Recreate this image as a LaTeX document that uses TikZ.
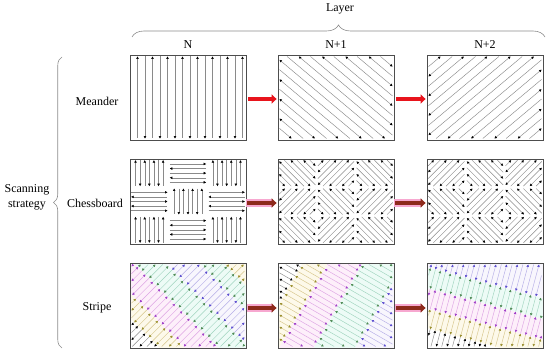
\documentclass[tikz,border=0pt]{standalone}
\usepackage{fontspec}
\setmainfont{Liberation Serif}
\usetikzlibrary{arrows.meta,decorations.pathreplacing}

\definecolor{frame}{HTML}{4D4D4D}
\definecolor{hgray}{HTML}{8A8A8A}
\definecolor{bracecol}{HTML}{8C8C8C}
\definecolor{redarrow}{HTML}{E8141C}
\definecolor{brownarrow}{HTML}{8E2A1C}
\definecolor{glow}{HTML}{F7A8D0}
\definecolor{aolive}{HTML}{9A8F2E}
\definecolor{aviolet}{HTML}{A040C8}
\definecolor{agreen}{HTML}{4F8A55}
\definecolor{ablue}{HTML}{5A4CCF}
\definecolor{bgolive}{HTML}{FDF9EA}
\definecolor{bgviolet}{HTML}{FDEFFA}
\definecolor{bggreen}{HTML}{EDFBF6}
\definecolor{bgblue}{HTML}{F8F6FD}
\definecolor{lolive}{HTML}{D6C58A}
\definecolor{lviolet}{HTML}{DDA3E3}
\definecolor{lgreen}{HTML}{A0D4BE}
\definecolor{lblue}{HTML}{B5ADE6}

\def\hoff{0}
\def\hcolline{hgray}
\def\hcolarr{black}

% hatch a rectangle (screen px, y down) with lines at angle #5, spacing #6,
% restricted to u in [#7,#8] (u measured from the rectangle centre along the hatch)
\newcommand\hatchrect[8]{%
  \pgfmathsetmacro\hcx{((#1)+(#3))/2}%
  \pgfmathsetmacro\hcy{((#2)+(#4))/2}%
  \pgfmathsetmacro\hdx{cos(#5)}%
  \pgfmathsetmacro\hdy{sin(#5)}%
  \pgfmathsetmacro\hadx{abs(\hdx)}%
  \pgfmathsetmacro\hady{abs(\hdy)}%
  \pgfmathtruncatemacro\hN{ceil(0.5*veclen((#3)-(#1),(#4)-(#2))/(#6))+1}%
  \pgfmathtruncatemacro\hNm{-\hN}%
  \foreach \j in {\hNm,...,\hN}{%
    \pgfmathsetmacro\hv{(\j)*(#6)+(\hoff)}%
    \pgfmathsetmacro\hpx{(\hcx)-(\hv)*(\hdy)}%
    \pgfmathsetmacro\hpy{(\hcy)+(\hv)*(\hdx)}%
    \def\hlo{#7}\def\hhi{#8}\def\hok{1}%
    \ifdim\hadx pt<0.001pt
      \pgfmathtruncatemacro\hok{((\hpx>(#1)+0.2)&&(\hpx<(#3)-0.2))?1:0}%
    \else
      \pgfmathsetmacro\hlo{max((\hlo),min(((#1)-(\hpx))/(\hdx),((#3)-(\hpx))/(\hdx)))}%
      \pgfmathsetmacro\hhi{min((\hhi),max(((#1)-(\hpx))/(\hdx),((#3)-(\hpx))/(\hdx)))}%
    \fi
    \ifdim\hady pt<0.001pt
      \pgfmathtruncatemacro\hok{((\hok==1)&&(\hpy>(#2)+0.2)&&(\hpy<(#4)-0.2))?1:0}%
    \else
      \pgfmathsetmacro\hlo{max((\hlo),min(((#2)-(\hpy))/(\hdy),((#4)-(\hpy))/(\hdy)))}%
      \pgfmathsetmacro\hhi{min((\hhi),max(((#2)-(\hpy))/(\hdy),((#4)-(\hpy))/(\hdy)))}%
    \fi
    \pgfmathtruncatemacro\hdraw{((\hok==1)&&((\hhi)-(\hlo)>2.5))?1:0}%
    \ifnum\hdraw=1
      \pgfmathsetmacro\hax{(\hpx)+(\hlo)*(\hdx)}%
      \pgfmathsetmacro\hay{(\hpy)+(\hlo)*(\hdy)}%
      \pgfmathsetmacro\hbx{(\hpx)+(\hhi)*(\hdx)}%
      \pgfmathsetmacro\hby{(\hpy)+(\hhi)*(\hdy)}%
      \ifodd\j
        \draw[hatchline,draw=\hcolline,{Triangle[length=2.4pt,width=2.4pt,color=\hcolarr]}-] (\hax,\hay) -- (\hbx,\hby);
      \else
        \draw[hatchline,draw=\hcolline,-{Triangle[length=2.4pt,width=2.4pt,color=\hcolarr]}] (\hax,\hay) -- (\hbx,\hby);
      \fi
    \fi
  }%
}

% chessboard box: #1 left x, #2 top y, #3 angle of "vertical" cells, #4 angle of "horizontal" cells, #5 spacing
\newcommand\chessbox[5]{%
  \foreach \ci in {0,1,2}{\foreach \ri in {0,1,2}{%
    \pgfmathsetmacro\qxa{(#1)+\ci*116/3+1.2}%
    \pgfmathsetmacro\qxb{(#1)+(\ci+1)*116/3-1.2}%
    \pgfmathsetmacro\qya{(#2)+\ri*85/3+1.2}%
    \pgfmathsetmacro\qyb{(#2)+(\ri+1)*85/3-1.2}%
    \pgfmathtruncatemacro\qp{mod(\ci+\ri,2)}%
    \ifnum\qp=0 \def\qang{#3}\else\def\qang{#4}\fi
    \hatchrect{\qxa}{\qya}{\qxb}{\qyb}{\qang}{#5}{-100}{100}%
  }}%
}

% band background: uses \BXa \BYa \BXb \BYb; #1 angle #2 umin #3 umax #4 colour
\newcommand\bandfill[4]{%
  \pgfmathsetmacro\fcx{((\BXa)+(\BXb))/2}%
  \pgfmathsetmacro\fcy{((\BYa)+(\BYb))/2}%
  \pgfmathsetmacro\fdx{cos(#1)}%
  \pgfmathsetmacro\fdy{sin(#1)}%
  \pgfmathsetmacro\fax{\fcx+(#2)*\fdx-200*\fdy}%
  \pgfmathsetmacro\fay{\fcy+(#2)*\fdy+200*\fdx}%
  \pgfmathsetmacro\fbx{\fcx+(#3)*\fdx-200*\fdy}%
  \pgfmathsetmacro\fby{\fcy+(#3)*\fdy+200*\fdx}%
  \pgfmathsetmacro\fcxx{\fcx+(#3)*\fdx+200*\fdy}%
  \pgfmathsetmacro\fcyy{\fcy+(#3)*\fdy-200*\fdx}%
  \pgfmathsetmacro\fdxx{\fcx+(#2)*\fdx+200*\fdy}%
  \pgfmathsetmacro\fdyy{\fcy+(#2)*\fdy-200*\fdx}%
  \begin{scope}
    \clip (\BXa,\BYa) rectangle (\BXb,\BYb);
    \fill[#4] (\fax,\fay) -- (\fbx,\fby) -- (\fcxx,\fcyy) -- (\fdxx,\fdyy) -- cycle;
  \end{scope}
}

% one stripe band: #1 angle #2 umin #3 umax #4 bg #5 line colour #6 arrow colour
\newcommand\stripeband[6]{%
  \bandfill{#1}{#2}{#3}{#4}%
  \def\hcolline{#5}\def\hcolarr{#6}%
  \hatchrect{\BXa+1.5}{\BYa+1.5}{\BXb-1.5}{\BYb-1.5}{#1}{5.2}{#2}{#3}%
}

\begin{document}
\begin{tikzpicture}[x=1pt,y=-1pt,
  hatchline/.style={line width=0.45pt},
  boxnode/.style={draw=frame,line width=0.8pt,minimum width=116pt,minimum height=85pt,inner sep=0pt},
  lbl/.style={font=\fontsize{12}{14.5}\selectfont,text=black,inner sep=0pt},
  bracestyle/.style={draw=bracecol,line width=0.6pt,decorate},
  redarr/.style={draw=redarrow,line width=4.5pt,-{Triangle[length=5pt,width=9pt]}},
  brownarr/.style={draw=brownarrow,line width=4.5pt,-{Triangle[length=5pt,width=9pt]}},
  glowline/.style={draw=glow,line width=8pt}]
\useasboundingbox (0,0) rectangle (550,353);

% ---------- Meander ----------
\def\hoff{-2}
\hatchrect{131.5}{56.5}{244.5}{138.5}{90}{7.5}{-100}{100}
\def\hoff{0}
\hatchrect{279.5}{56.5}{392.5}{138.5}{40}{7.5}{-100}{100}
\hatchrect{428.5}{56.5}{541.5}{138.5}{-40}{7.5}{-100}{100}

% ---------- Chessboard ----------
\chessbox{130}{159}{90}{0}{4.6}
\chessbox{278}{159}{45}{-45}{4.5}
\chessbox{427}{159}{-45}{45}{4.5}

% ---------- Stripe ----------
\def\BXa{130}\def\BYa{263}\def\BXb{246}\def\BYb{348}
\stripeband{-45}{-80}{-50}{white}{hgray}{black}
\stripeband{-45}{-50}{-32}{bgolive}{lolive}{aolive}
\stripeband{-45}{-32}{-8}{bgviolet}{lviolet}{aviolet}
\stripeband{-45}{-8}{14}{bggreen}{lgreen}{agreen}
\stripeband{-45}{14}{38}{bgblue}{lblue}{ablue}
\stripeband{-45}{38}{55}{bggreen}{lgreen}{agreen}
\stripeband{-45}{55}{80}{bgolive}{lolive}{aolive}

\def\BXa{278}\def\BYa{263}\def\BXb{394}\def\BYb{348}
\stripeband{30}{-80}{-50}{white}{hgray}{black}
\stripeband{30}{-50}{-28}{bgolive}{lolive}{aolive}
\stripeband{30}{-28}{2}{bgviolet}{lviolet}{aviolet}
\stripeband{30}{2}{38}{bggreen}{lgreen}{agreen}
\stripeband{30}{38}{80}{bgblue}{lblue}{ablue}

\def\BXa{427}\def\BYa{263}\def\BXb{543}\def\BYb{348}
\stripeband{-75}{-80}{-37}{white}{hgray}{black}
\stripeband{-75}{-37}{-18}{bgolive}{lolive}{aolive}
\stripeband{-75}{-18}{2}{bgviolet}{lviolet}{aviolet}
\stripeband{-75}{2}{22}{bggreen}{lgreen}{agreen}
\stripeband{-75}{22}{80}{bgblue}{lblue}{ablue}

% ---------- frames ----------
\node[boxnode] (m0) at (188,97.5) {};
\node[boxnode] (m1) at (336,97.5) {};
\node[boxnode] (m2) at (485,97.5) {};
\node[boxnode] (c0) at (188,201.5) {};
\node[boxnode] (c1) at (336,201.5) {};
\node[boxnode] (c2) at (485,201.5) {};
\node[boxnode] (s0) at (188,305.5) {};
\node[boxnode] (s1) at (336,305.5) {};
\node[boxnode] (s2) at (485,305.5) {};

% ---------- arrows between layers ----------
\draw[redarr,shorten <=2pt,shorten >=1pt] ([yshift=-1.5pt]m0.east) -- ([yshift=-1.5pt]m1.west);
\draw[redarr,shorten <=2pt,shorten >=1pt] ([yshift=-1.5pt]m1.east) -- ([yshift=-1.5pt]m2.west);
\draw[glowline,shorten <=0pt,shorten >=6pt] ([yshift=-1.5pt]c0.east) -- ([yshift=-1.5pt]c1.west);
\draw[brownarr,shorten <=1pt,shorten >=1pt] ([yshift=-1.5pt]c0.east) -- ([yshift=-1.5pt]c1.west);
\draw[glowline,shorten <=0pt,shorten >=6pt] ([yshift=-1.5pt]c1.east) -- ([yshift=-1.5pt]c2.west);
\draw[brownarr,shorten <=1pt,shorten >=1pt] ([yshift=-1.5pt]c1.east) -- ([yshift=-1.5pt]c2.west);
\draw[glowline,shorten <=1pt,shorten >=6pt] ([yshift=-2.5pt]s0.east) -- ([yshift=-2.5pt]s1.west);
\draw[brownarr,shorten <=2pt,shorten >=1pt] ([yshift=-2.5pt]s0.east) -- ([yshift=-2.5pt]s1.west);
\draw[glowline,shorten <=1pt,shorten >=6pt] ([yshift=-2.5pt]s1.east) -- ([yshift=-2.5pt]s2.west);
\draw[brownarr,shorten <=2pt,shorten >=1pt] ([yshift=-2.5pt]s1.east) -- ([yshift=-2.5pt]s2.west);

% ---------- labels and braces ----------
\node[lbl] (layer) at (340,9) {Layer};
\coordinate (bl) at (132,37);
\coordinate (br) at (545,37);
\draw[bracestyle,decoration={brace,amplitude=12pt}] (bl) -- (br);
\node[lbl] (tN) at (188,45) {N};
\node[lbl] (tN1) at (336,45) {N+1};
\node[lbl] (tN2) at (485,45) {N+2};

\node[lbl] (rM) at (97,101) {Meander};
\node[lbl] (rC) at (95,203) {Chessboard};
\node[lbl] (rS) at (97,308) {Stripe};
\node[lbl,align=center] (scan) at (27,197.5) {Scanning\\strategy};
\coordinate (lb) at (62,348);
\coordinate (lt) at (62,57);
\draw[bracestyle,decoration={brace,amplitude=8.5pt}] (lb) -- (lt);
\end{tikzpicture}
\end{document}
